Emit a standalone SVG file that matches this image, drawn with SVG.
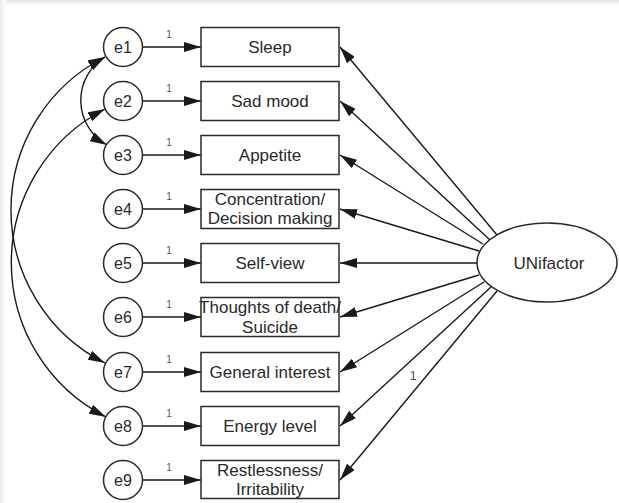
<svg xmlns="http://www.w3.org/2000/svg" width="619" height="503" viewBox="0 0 619 503">
<defs>
<marker id="ah" viewBox="0 0 17 10" refX="17" refY="5" markerWidth="17" markerHeight="10" markerUnits="userSpaceOnUse" orient="auto-start-reverse">
<path d="M0,0 L17,5 L0,10 z" fill="#1a1a1a"/>
</marker>
<linearGradient id="gt" x1="0" y1="0" x2="0" y2="1"><stop offset="0" stop-color="#e6e6e6"/><stop offset="1" stop-color="#ffffff"/></linearGradient>
<linearGradient id="gl" x1="0" y1="0" x2="1" y2="0"><stop offset="0" stop-color="#ebebeb"/><stop offset="1" stop-color="#ffffff"/></linearGradient>
</defs>
<style>
text{font-family:"Liberation Sans",Arial,sans-serif;fill:#2a2a2a;text-anchor:middle}
.box{fill:#fff;stroke:#2a2a2a;stroke-width:1.5}
.circ{fill:#fff;stroke:#2a2a2a;stroke-width:1.5}
.bt{font-size:17px}
.et{font-size:16px}
.one{font-size:10px;fill:#555}
.ln{stroke:#1a1a1a;stroke-width:1.4;fill:none;marker-end:url(#ah)}
.cv{stroke:#1a1a1a;stroke-width:1.4;fill:none;marker-start:url(#ah);marker-end:url(#ah)}
</style>
<rect width="619" height="503" fill="#fff"/>
<rect x="0" y="0" width="619" height="6" fill="url(#gt)"/>
<rect x="0" y="0" width="6" height="503" fill="url(#gl)"/>

<g id="connectors">
<line class="ln" x1="143" y1="47" x2="201" y2="47"/>
<line class="ln" x1="143" y1="101" x2="201" y2="101"/>
<line class="ln" x1="143" y1="155" x2="201" y2="155"/>
<line class="ln" x1="143" y1="209" x2="201" y2="209"/>
<line class="ln" x1="143" y1="263" x2="201" y2="263"/>
<line class="ln" x1="143" y1="317" x2="201" y2="317"/>
<line class="ln" x1="143" y1="372" x2="201" y2="372"/>
<line class="ln" x1="143" y1="426" x2="201" y2="426"/>
<line class="ln" x1="143" y1="480" x2="201" y2="480"/>
<line class="ln" x1="497" y1="235" x2="340" y2="47"/>
<line class="ln" x1="490" y1="240" x2="340" y2="101"/>
<line class="ln" x1="483" y1="244" x2="340" y2="155"/>
<line class="ln" x1="479" y1="251" x2="340" y2="209"/>
<line class="ln" x1="477" y1="263" x2="340" y2="263"/>
<line class="ln" x1="479" y1="275" x2="340" y2="317"/>
<line class="ln" x1="484" y1="282" x2="340" y2="372"/>
<line class="ln" x1="491" y1="287" x2="340" y2="426"/>
<line class="ln" x1="497" y1="291" x2="340" y2="480"/>
<path class="cv" d="M105,57 A51,51 0 0 0 107,145"/>
<path class="cv" d="M105,57 A171.5,171.5 0 0 0 105,363"/>
<path class="cv" d="M105,109 A173,173 0 0 0 106,417"/>
<text class="one" x="169" y="38">1</text>
<text class="one" x="169" y="92">1</text>
<text class="one" x="169" y="146">1</text>
<text class="one" x="169" y="200">1</text>
<text class="one" x="169" y="254">1</text>
<text class="one" x="169" y="308">1</text>
<text class="one" x="169" y="363">1</text>
<text class="one" x="169" y="417">1</text>
<text class="one" x="169" y="471">1</text>
<text class="one" x="413" y="380" style="font-size:13px">1</text>
</g>

<g id="e1"><circle class="circ" cx="123" cy="47" r="19.5"/><text class="et" x="123" y="52.5">e1</text></g>
<g id="e2"><circle class="circ" cx="123" cy="101" r="19.5"/><text class="et" x="123" y="106.5">e2</text></g>
<g id="e3"><circle class="circ" cx="123" cy="155" r="19.5"/><text class="et" x="123" y="160.5">e3</text></g>
<g id="e4"><circle class="circ" cx="123" cy="209" r="19.5"/><text class="et" x="123" y="214.5">e4</text></g>
<g id="e5"><circle class="circ" cx="123" cy="263" r="19.5"/><text class="et" x="123" y="268.5">e5</text></g>
<g id="e6"><circle class="circ" cx="123" cy="317" r="19.5"/><text class="et" x="123" y="322.5">e6</text></g>
<g id="e7"><circle class="circ" cx="123" cy="372" r="19.5"/><text class="et" x="123" y="377.5">e7</text></g>
<g id="e8"><circle class="circ" cx="123" cy="426" r="19.5"/><text class="et" x="123" y="431.5">e8</text></g>
<g id="e9"><circle class="circ" cx="123" cy="480" r="19.5"/><text class="et" x="123" y="485.5">e9</text></g>

<g id="sleep"><rect class="box" x="201" y="27.5" width="138" height="39"/><text class="bt" x="270" y="53">Sleep</text></g>
<g id="sadmood"><rect class="box" x="201" y="81.5" width="138" height="39"/><text class="bt" x="270" y="107">Sad mood</text></g>
<g id="appetite"><rect class="box" x="201" y="135.5" width="138" height="39"/><text class="bt" x="270" y="161">Appetite</text></g>
<g id="concentration"><rect class="box" x="201" y="189.5" width="138" height="39"/><text class="bt" x="270" y="205">Concentration/</text><text class="bt" x="270" y="224">Decision making</text></g>
<g id="selfview"><rect class="box" x="201" y="243.5" width="138" height="39"/><text class="bt" x="270" y="269">Self-view</text></g>
<g id="thoughts"><rect class="box" x="201" y="297.5" width="138" height="39"/><text class="bt" x="270" y="313">Thoughts of death/</text><text class="bt" x="270" y="333">Suicide</text></g>
<g id="general"><rect class="box" x="201" y="352.5" width="138" height="39"/><text class="bt" x="270" y="378">General interest</text></g>
<g id="energy"><rect class="box" x="201" y="406.5" width="138" height="39"/><text class="bt" x="270" y="432">Energy level</text></g>
<g id="restless"><rect class="box" x="201" y="460.5" width="138" height="38"/><text class="bt" x="270" y="476">Restlessness/</text><text class="bt" x="270" y="495">Irritability</text></g>

<g id="unifactor"><ellipse class="circ" cx="547" cy="262.5" rx="70" ry="39.5"/><text class="bt" x="549" y="269">UNifactor</text></g>
</svg>
